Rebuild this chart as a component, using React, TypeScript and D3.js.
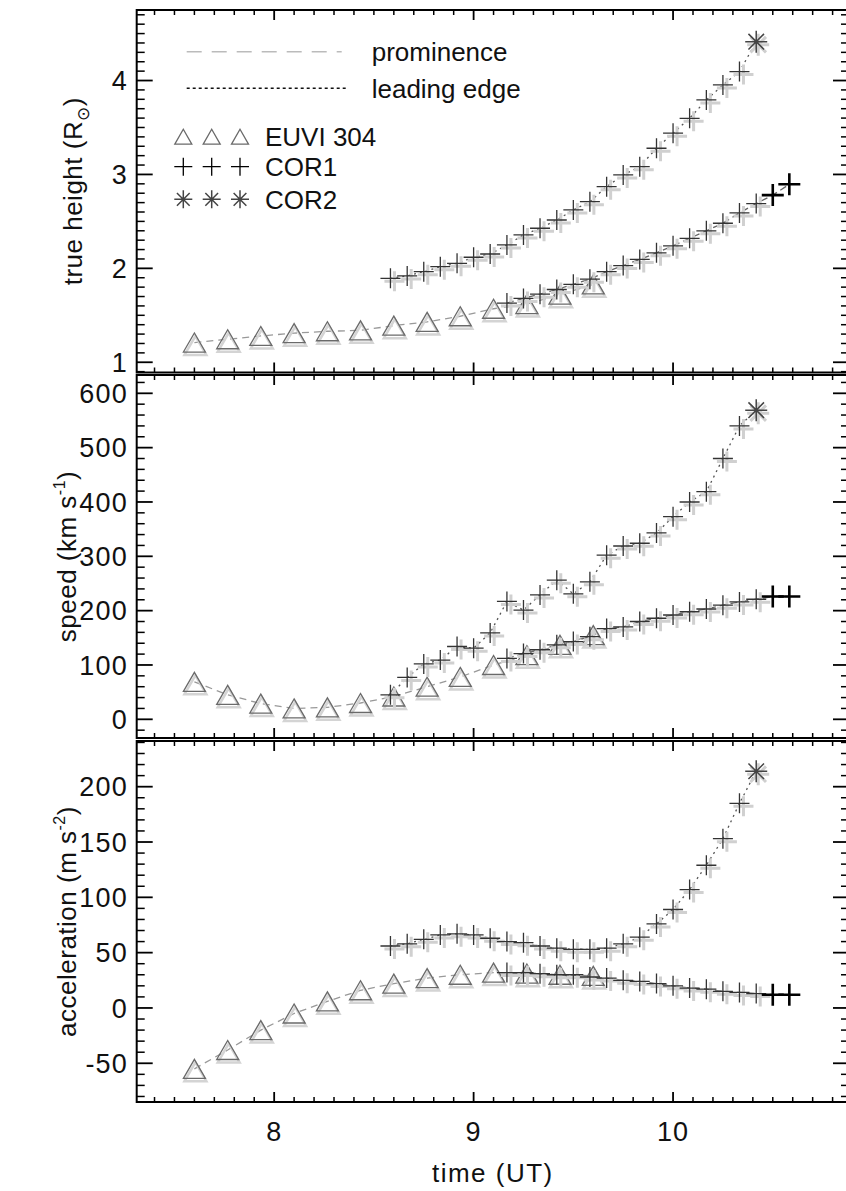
import React from 'react';
import * as d3 from 'd3';

// ---------- data ----------
const timeTicks = [8, 9, 10];
const heightTicks = [1, 2, 3, 4];
const speedTicks = [0, 100, 200, 300, 400, 500, 600];
const accelTicks = [-50, 0, 50, 100, 150, 200];

const euviTimes = [7.6, 7.767, 7.933, 8.1, 8.267, 8.433, 8.6, 8.767, 8.933, 9.1, 9.267, 9.433, 9.6];
const cor1LeadTimes = [8.583, 8.667, 8.75, 8.833, 8.917, 9.0, 9.083, 9.167, 9.25, 9.333, 9.417, 9.5, 9.583, 9.667, 9.75, 9.833, 9.917, 10.0, 10.083, 10.167, 10.25, 10.333];
const cor2LeadTimes = [10.417];
const cor1PromTimes = [9.167, 9.25, 9.333, 9.417, 9.5, 9.583, 9.667, 9.75, 9.833, 9.917, 10.0, 10.083, 10.167, 10.25, 10.333, 10.417];
const cor1PromEndTimes = [10.5, 10.583];

const euviHeight = [1.21, 1.245, 1.28, 1.31, 1.33, 1.34, 1.39, 1.43, 1.49, 1.57, 1.62, 1.72, 1.83];
const leadHeight = [1.894, 1.919, 1.965, 2.018, 2.054, 2.118, 2.153, 2.249, 2.356, 2.427, 2.515, 2.622, 2.71, 2.87, 2.995, 3.083, 3.279, 3.439, 3.598, 3.793, 3.953, 4.095];
const cor2Height = [4.414];
const promHeight = [1.63, 1.68, 1.725, 1.775, 1.83, 1.885, 1.965, 2.03, 2.095, 2.165, 2.24, 2.32, 2.4, 2.48, 2.59, 2.69];
const promEndHeight = [2.78, 2.895];

const euviSpeed = [69, 45, 29, 20, 22, 30, 42, 60, 78, 100, 118, 137, 155];
const leadSpeed = [45, 77, 102, 109, 134, 131, 159, 217, 201, 229, 256, 231, 253, 302, 319, 324, 343, 373, 400, 419, 480, 540];
const cor2Speed = [569];
const promSpeed = [112, 121, 128, 137, 143, 152, 167, 170, 180, 186, 192, 198, 203, 210, 216, 221];
const promEndSpeed = [226, 226];

const euviAccel = [-55, -38, -20, -5, 6, 16, 22, 27, 30, 32, 31, 30, 29];
const leadAccel = [56, 58, 62, 66, 67, 66, 63, 60, 59, 56, 54, 53, 53, 54, 58, 64, 76, 89, 107, 129, 153, 185];
const cor2Accel = [214];
const promAccel = [32, 32, 31, 30, 30, 28, 27, 25, 24, 22, 20, 18, 17, 15, 14, 13];
const promEndAccel = [12, 12];

// ---------- layout ----------
const W = 846;
const H = 1191;
const X0 = 136.7;
const X1 = 849;
const FONT = '"Liberation Sans", Arial, Helvetica, sans-serif';
const FS = 26;

const x = d3.scaleLinear().domain([7.3107, 10.8822]).range([X0, X1]);

type Panel = {
  top: number;
  bottom: number;
  domain: [number, number];
  ticks: number[];
  minorStep: number;
  euvi: number[];
  lead: number[];
  cor2: number[];
  prom: number[];
  promEnd: number[];
  title: React.ReactNode;
  titleX: number;
};

const panels: Panel[] = [
  {
    top: 10, bottom: 372.5, domain: [0.891, 4.751], ticks: heightTicks, minorStep: 0.1,
    euvi: euviHeight, lead: leadHeight, cor2: cor2Height, prom: promHeight, promEnd: promEndHeight,
    title: (<>true height (R<tspan fontSize={17} dy={7}>⊙</tspan><tspan dy={-7}>)</tspan></>),
    titleX: 82,
  },
  {
    top: 375, bottom: 738, domain: [-34.4, 633.7], ticks: speedTicks, minorStep: 20,
    euvi: euviSpeed, lead: leadSpeed, cor2: cor2Speed, prom: promSpeed, promEnd: promEndSpeed,
    title: (<>speed (km s<tspan fontSize={16} dy={-11}>-1</tspan><tspan dy={11}>)</tspan></>),
    titleX: 76,
  },
  {
    top: 741, bottom: 1102, domain: [-85, 241.3], ticks: accelTicks, minorStep: 10,
    euvi: euviAccel, lead: leadAccel, cor2: cor2Accel, prom: promAccel, promEnd: promEndAccel,
    title: (<>acceleration (m s<tspan fontSize={16} dy={-11}>-2</tspan><tspan dy={11}>)</tspan></>),
    titleX: 76,
  },
];

const triPath = (w: number, h: number) => `M0,${-h / 2}L${w / 2},${h / 2}L${-w / 2},${h / 2}Z`;
const crossPath = (r: number) => `M${-r},0H${r}M0,${-r}V${r}`;
const starPath = (r: number) => {
  const d = r * Math.SQRT1_2;
  return `M${-r},0H${r}M0,${-r}V${r}M${-d},${-d}L${d},${d}M${-d},${d}L${d},${-d}`;
};

function Tri({ cx, cy, w = 22, h = 19, ghost = true }: any) {
  return (
    <g transform={`translate(${cx},${cy})`}>
      {ghost && <path d={triPath(w, h)} transform="translate(1,3)" fill="none" stroke="#d4d4d4" strokeWidth={2.5} />}
      <path d={triPath(w, h)} fill="none" stroke="#6a6a6a" strokeWidth={1.3} />
    </g>
  );
}

function Cross({ cx, cy, r = 10, ghost = true, bold = false, color = '#333' }: any) {
  return (
    <g transform={`translate(${cx},${cy})`}>
      {ghost && <path d={crossPath(r)} transform="translate(4,3)" stroke="#d0d0d0" strokeWidth={3} fill="none" />}
      <path d={crossPath(r)} stroke={bold ? '#000' : color} strokeWidth={bold ? 2.6 : 1.3} fill="none" />
    </g>
  );
}

function Star({ cx, cy, r = 11, ghost = true }: any) {
  return (
    <g transform={`translate(${cx},${cy})`}>
      {ghost && <path d={starPath(r)} transform="translate(2,3)" stroke="#cfcfcf" strokeWidth={3} fill="none" />}
      <path d={starPath(r)} stroke="#444" strokeWidth={1.5} fill="none" />
    </g>
  );
}

function PanelView({ p, idx }: { p: Panel; idx: number }) {
  const y = d3.scaleLinear().domain(p.domain).range([p.bottom, p.top]);
  const minorX = d3.range(7.4, 10.85, 0.1).map((v) => Math.round(v * 10) / 10).filter((v) => !timeTicks.includes(v));
  const minorY: number[] = [];
  const start = Math.ceil(p.domain[0] / p.minorStep) * p.minorStep;
  for (let v = start; v <= p.domain[1] + 1e-9; v += p.minorStep) {
    const r = Math.round(v / p.minorStep) * p.minorStep;
    if (!p.ticks.some((t) => Math.abs(t - r) < 1e-6)) minorY.push(r);
  }
  const line = d3.line<[number, number]>().x((d) => x(d[0])).y((d) => y(d[1]));
  const zip = (ts: number[], vs: number[]) => ts.map((t, i) => [t, vs[i]] as [number, number]);
  const euviPts = zip(euviTimes, p.euvi);
  const leadPts = zip(cor1LeadTimes, p.lead);
  const cor2Pts = zip(cor2LeadTimes, p.cor2);
  const promPts = zip(cor1PromTimes, p.prom);
  const promEndPts = zip(cor1PromEndTimes, p.promEnd);
  const midY = (p.top + p.bottom) / 2;
  return (
    <g>
      {/* lines */}
      <path d={line(euviPts) || ''} fill="none" stroke="#999" strokeWidth={1.3} strokeDasharray="7,5" />
      <path d={line([...promPts, ...promEndPts]) || ''} fill="none" stroke="#666" strokeWidth={1.3} strokeDasharray="7,4" />
      <path d={line([...leadPts, ...cor2Pts]) || ''} fill="none" stroke="#555" strokeWidth={1.3} strokeDasharray="2,4" />
      {/* markers */}
      {euviPts.map((d, i) => <Tri key={'e' + i} cx={x(d[0])} cy={y(d[1])} />)}
      {promPts.map((d, i) => <Cross key={'p' + i} cx={x(d[0])} cy={y(d[1])} />)}
      {leadPts.map((d, i) => <Cross key={'l' + i} cx={x(d[0])} cy={y(d[1])} />)}
      {promEndPts.map((d, i) => <Cross key={'pe' + i} cx={x(d[0])} cy={y(d[1])} r={11} bold ghost={false} />)}
      {cor2Pts.map((d, i) => <Star key={'s' + i} cx={x(d[0])} cy={y(d[1])} />)}

      {/* frame */}
      <rect x={X0} y={p.top} width={X1 - X0} height={p.bottom - p.top} fill="none" stroke="#000" strokeWidth={2} />
      {/* x ticks */}
      {minorX.map((v) => (
        <g key={'mx' + v}>
          <line x1={x(v)} x2={x(v)} y1={p.bottom} y2={p.bottom - 5} stroke="#000" strokeWidth={1.5} />
          <line x1={x(v)} x2={x(v)} y1={p.top} y2={p.top + 5} stroke="#000" strokeWidth={1.5} />
        </g>
      ))}
      {timeTicks.map((v) => (
        <g key={'Mx' + v}>
          <line x1={x(v)} x2={x(v)} y1={p.bottom} y2={p.bottom - 10} stroke="#000" strokeWidth={1.8} />
          <line x1={x(v)} x2={x(v)} y1={p.top} y2={p.top + 10} stroke="#000" strokeWidth={1.8} />
        </g>
      ))}
      {/* y ticks */}
      {minorY.map((v) => (
        <g key={'my' + v}>
          <line x1={X0} x2={X0 + 8} y1={y(v)} y2={y(v)} stroke="#000" strokeWidth={1.5} />
          <line x1={X1} x2={X1 - 8} y1={y(v)} y2={y(v)} stroke="#000" strokeWidth={1.5} />
        </g>
      ))}
      {p.ticks.map((v) => (
        <g key={'My' + v}>
          <line x1={X0} x2={X0 + 16} y1={y(v)} y2={y(v)} stroke="#000" strokeWidth={1.8} />
          <line x1={X1} x2={X1 - 16} y1={y(v)} y2={y(v)} stroke="#000" strokeWidth={1.8} />
          <text x={128} y={y(v)} dy="0.36em" textAnchor="end" fontSize={27} letterSpacing={1.2} fontFamily={FONT} fill="#111">{v}</text>
        </g>
      ))}
      {/* y title */}
      <text transform={`translate(${p.titleX},${midY}) rotate(-90)`} textAnchor="middle" fontSize={FS} letterSpacing={0.5} fontFamily={FONT} fill="#111">{p.title}</text>

      {/* x tick labels only on bottom panel */}
      {idx === 2 && timeTicks.map((v) => (
        <text key={'xl' + v} x={x(v)} y={1141} textAnchor="middle" fontSize={27} letterSpacing={1} fontFamily={FONT} fill="#111">{v}</text>
      ))}
    </g>
  );
}

function Legend() {
  return (
    <g fontFamily={FONT} fontSize={FS} fill="#111">
      <line x1={186.7} x2={341.7} y1={51.7} y2={51.7} stroke="#bbb" strokeWidth={1.5} strokeDasharray="15,10" />
      <text x={371.7} y={52} dy="0.33em">prominence</text>
      <line x1={186.7} x2={348} y1={88.3} y2={88.3} stroke="#111" strokeWidth={1.5} strokeDasharray="3,3" />
      <text x={371.7} y={89} dy="0.33em">leading edge</text>
      {[183.3, 211.7, 240].map((cx) => <Tri key={'lt' + cx} cx={cx} cy={136.7} w={17} h={15} ghost={false} />)}
      <text x={265} y={137} dy="0.36em">EUVI 304</text>
      {[183.3, 211.7, 240].map((cx) => <Cross key={'lc' + cx} cx={cx} cy={166.7} r={9} ghost={false} color="#000" />)}
      <text x={265} y={167} dy="0.36em">COR1</text>
      {[183.3, 211.7, 240].map((cx) => <Star key={'ls' + cx} cx={cx} cy={199.3} r={9} ghost={false} />)}
      <text x={265} y={199.5} dy="0.36em">COR2</text>
    </g>
  );
}

export default function App() {
  return (
    <svg width={W} height={H} viewBox={`0 0 ${W} ${H}`} style={{ position: 'absolute', left: 0, top: 0, background: '#fff' }}>
      <rect x={0} y={0} width={W} height={H} fill="#fff" />
      {panels.map((p, i) => <PanelView key={i} p={p} idx={i} />)}
      <Legend />
      <text x={(X0 + X1) / 2} y={1182} textAnchor="middle" fontSize={FS} letterSpacing={1.5} fontFamily={FONT} fill="#111">time (UT)</text>
    </svg>
  );
}
